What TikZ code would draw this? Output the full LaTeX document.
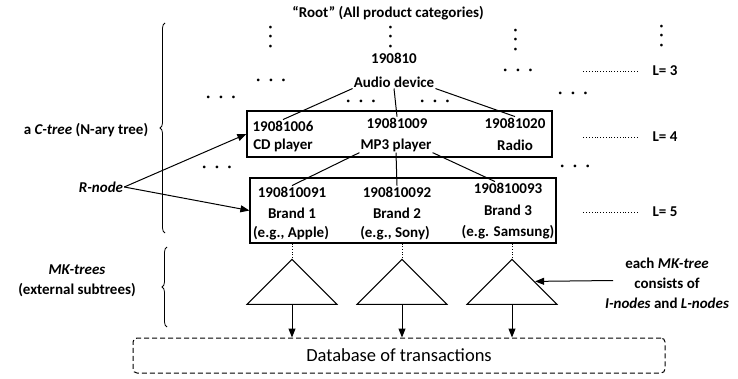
\documentclass[tikz,border=0pt]{standalone}
\usepackage{fontspec}
\setmainfont{Carlito}
\usetikzlibrary{arrows.meta,positioning,fit,shapes.geometric,decorations.pathreplacing,calc}
\newcommand{\rowdots}{·\hspace{8.8pt}·\hspace{8.8pt}·}
\newcommand{\coldots}{\rotatebox{90}{·\hspace{5.8pt}·\hspace{5.8pt}·}}

\begin{document}
\begin{tikzpicture}[x=1pt,y=-1pt,
  lbl/.style={font=\bfseries\fontsize{15}{20}\selectfont,inner sep=1pt,align=center},
  dts/.style={font=\bfseries\fontsize{14.5}{17}\selectfont,inner sep=0pt},
  box/.style={draw,line width=1.2pt,inner sep=0pt},
  tri/.style={draw,line width=1pt,isosceles triangle,isosceles triangle stretches,shape border rotate=90,minimum width=90pt,minimum height=45pt,inner sep=0pt,anchor=apex},
  lvl/.style={dotted,line width=0.8pt},
  arr/.style={-{Triangle[length=9pt,width=7pt]},line width=1pt}]
  \useasboundingbox (0,0) rectangle (738,379);
  \node[lbl] (root) at (388,13) {“Root” (All product categories)};
  % upper levels
  \node[dts] (v1) at (272,37) {\coldots};
  \node[dts] (v2) at (392,37) {\coldots};
  \node[dts] (v3) at (517,40) {\coldots};
  \node[dts] (v4) at (663,36) {\coldots};
  \node[lbl] (cat) at (394,58) {190810};
  \node[lbl] (audio) at (394,82) {Audio device};
  \node[dts] (h1) at (271,82) {\rowdots};
  \node[dts] (h2) at (221,99) {\rowdots};
  \node[dts] (h3) at (361,103) {\rowdots};
  \node[dts] (h4) at (435,103) {\rowdots};
  \node[dts] (h5) at (518,72) {\rowdots};
  \node[dts] (h6) at (573,95) {\rowdots};
  \node[dts] (h7) at (217,169) {\rowdots};
  \node[dts] (h8) at (575,168) {\rowdots};

  % level 4
  \node[lbl] (c1) at (283,126) {19081006};
  \node[lbl] (c2) at (397,123) {19081009};
  \node[lbl] (c3) at (515,123) {19081020};
  \node[lbl] (c1n) at (283,145) {CD player};
  \node[lbl] (c2n) at (396,145) {MP3 player};
  \node[lbl] (c3n) at (515,145) {Radio};
  \node[box,fit={(247,111) (552,157)}] (box1) {};

  % level 5
  \node[lbl] (b1) at (292,192) {190810091};
  \node[lbl] (b2) at (397,192) {190810092};
  \node[lbl] (b3) at (508,188) {190810093};
  \node[lbl] (b1n) at (292,213) {Brand 1};
  \node[lbl] (b2n) at (397,213) {Brand 2};
  \node[lbl] (b3n) at (508,210) {Brand 3};
  \node[lbl] (b1e) at (291,233) {(e.g., Apple)};
  \node[lbl] (b2e) at (395,233) {(e.g., Sony)};
  \node[lbl] (b3e) at (508,232) {(e.g. Samsung)};
  \node[box,fit={(250,178) (556,243)}] (box2) {};

  \draw[line width=1pt] (audio.south west) -- (c1.north);
  \draw[line width=1pt] (audio.south) -- (c2.north);
  \draw[line width=1pt] (audio.south east) -- (c3.north);
  \draw[line width=1pt] (c2n.south west) -- (b1.north);
  \draw[line width=1pt] (c2n.south) -- (b2.north);
  \draw[line width=1pt] (c2n.south east) -- ([xshift=-13pt]b3.north);

  % levels
  \node[lbl] (l3) at (665,71) {L= 3};
  \node[lbl] (l4) at (665,137) {L= 4};
  \node[lbl] (l5) at (665,212) {L= 5};
  \draw[lvl] ([xshift=-14pt]l3.west) -- ++(-55,0);
  \draw[lvl] ([xshift=-14pt]l4.west) -- ++(-55,0);
  \draw[lvl] ([xshift=-14pt]l5.west) -- ++(-55,0);

  % left side
  \node[lbl] (ctree) at (86,130) {a \textit{C-tree} (N-ary tree)};
  \node[lbl] (rnode) at (101,187) {\textit{R-node}};
  \node[lbl] (mk) at (77,281) {\textit{MK-trees}\\(external subtrees)};
  \draw[line width=0.8pt,decorate,decoration={brace,amplitude=5pt}] (165,233) -- (165,23);
  \draw[line width=0.8pt,decorate,decoration={brace,amplitude=5pt}] (167,327) -- (167,247);
  \draw[arr] (rnode.east) -- (box1.west);
  \draw[arr] (rnode.east) -- (box2.west);

  % MK-trees
  \node[tri] (t1) at (292,258) {};
  \node[tri] (t2) at (402,258) {};
  \node[tri] (t3) at (512,258) {};
  \node[draw,dashed,dash pattern=on 5pt off 3pt,line width=1pt,rounded corners=4pt,minimum width=532pt,minimum height=35pt,font=\fontsize{18.5}{20}\selectfont] (db) at (399,355.5) {Database of transactions};
  \foreach \t in {t1,t2,t3}{
    \draw[lvl] (\t.apex) -- (\t.apex |- box2.south);
    \draw[arr] (\t.lower side) -- (\t.lower side |- db.north);
  }
  \node[lbl] (mknote) at (667,283) {each \textit{MK-tree}\\consists of\\\textit{I-nodes} and \textit{L-nodes}};
  \coordinate (mkfrom) at (613,280.5);
  \draw[arr] (mkfrom) -- (t3.right side);
\end{tikzpicture}
\end{document}
